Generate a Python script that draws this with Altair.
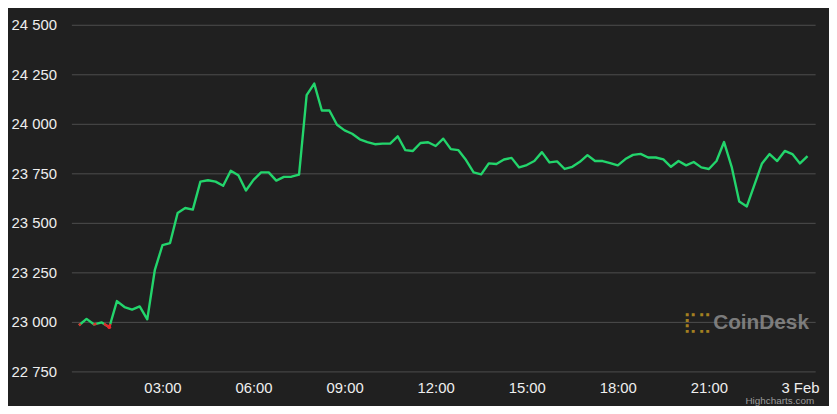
import altair as alt
import pandas as pd

# ---- data (BTC price, 15-minute steps, 2 Feb 00:15 -> 3 Feb 00:15)
start_time = "2023-02-02 00:15"
prices = [
    22983, 23015, 22987, 22997, 22973, 23105, 23075, 23062, 23078, 23013,
    23263, 23387, 23398, 23550, 23575, 23567, 23708, 23715, 23708, 23687,
    23763, 23740, 23663, 23717, 23755, 23755, 23713, 23732, 23733, 23743,
    24145, 24203, 24067, 24067, 23995, 23967, 23950, 23922, 23908, 23897,
    23900, 23900, 23937, 23867, 23863, 23903, 23907, 23888, 23925, 23872,
    23867, 23817, 23755, 23745, 23800, 23797, 23820, 23828, 23780, 23792,
    23812, 23857, 23805, 23810, 23772, 23783, 23808, 23842, 23812, 23812,
    23802, 23790, 23822, 23843, 23848, 23830, 23830, 23820, 23783, 23812,
    23790, 23807, 23780, 23772, 23812, 23908, 23783, 23608, 23583, 23692,
    23800, 23847, 23812, 23863, 23847, 23800, 23837,
]
open_price = 22990  # zone threshold: below it the line is drawn red

y_ticks = [22750, 23000, 23250, 23500, 23750, 24000, 24250, 24500]
x_tick_hours = [3, 6, 9, 12, 15, 18, 21, 24]
x_tick_labels = ["03:00", "06:00", "09:00", "12:00", "15:00", "18:00", "21:00", "3 Feb"]

times = pd.date_range(start_time, periods=len(prices), freq="15min")
df = pd.DataFrame({"time": times, "price": prices})

# red pieces of the line: parts of segments that lie below the threshold
red_rows = []
seg = 0
for i in range(len(prices) - 1):
    t0, t1 = times[i], times[i + 1]
    p0, p1 = prices[i], prices[i + 1]
    b0, b1 = p0 < open_price, p1 < open_price
    if not (b0 or b1):
        continue
    f = (open_price - p0) / (p1 - p0)
    tc = t0 + (t1 - t0) * f
    a = (t0, p0) if b0 else (tc, open_price)
    b = (t1, p1) if b1 else (tc, open_price)
    red_rows.append({"time": a[0], "price": a[1], "seg": seg})
    red_rows.append({"time": b[0], "price": b[1], "seg": seg})
    seg += 1
red_df = pd.DataFrame(red_rows)

tick_values = []
for h in x_tick_hours:
    if h < 24:
        tick_values.append(alt.DateTime(year=2023, month=2, date=2, hours=h, minutes=0))
    else:
        tick_values.append(alt.DateTime(year=2023, month=2, date=3, hours=0, minutes=0))

label_map = "{" + ",".join(
    f"'{h % 24}': '{lab}'" for h, lab in zip(x_tick_hours, x_tick_labels)
) + "}"

x_enc = alt.X(
    "time:T",
    title=None,
    scale=alt.Scale(
        domain=[
            alt.DateTime(year=2023, month=2, date=2, hours=0, minutes=0),
            alt.DateTime(year=2023, month=2, date=3, hours=0, minutes=30),
        ]
    ),
    axis=alt.Axis(
        values=tick_values,
        labelExpr=f"{label_map}[''+hours(datum.value)]",
        grid=False,
        ticks=False,
        domain=False,
        labelColor="#eeeeee",
        labelFont="Liberation Sans",
        labelFontSize=15,
        labelPadding=9,
        labelAngle=0,
    ),
)
y_enc = alt.Y(
    "price:Q",
    title=None,
    scale=alt.Scale(domain=[22750, 24500], nice=False, zero=False),
    axis=alt.Axis(
        values=y_ticks,
        labelExpr="replace(format(datum.value, ','), ',', ' ')",
        grid=True,
        gridColor="#4e4e4e",
        gridWidth=1,
        ticks=False,
        domain=False,
        labelColor="#eeeeee",
        labelFont="Liberation Sans",
        labelFontSize=15,
        labelPadding=15,
    ),
)

green = alt.Chart(df).mark_line(color="#23d56c", strokeWidth=2.4, strokeJoin="round").encode(
    x=x_enc, y=y_enc
)
red = alt.Chart(red_df).mark_line(color="#e3262b", strokeWidth=2.4).encode(
    x="time:T", y="price:Q", detail="seg:N"
)
red_dot = alt.Chart(df[df["price"] < open_price].iloc[[-1]]).mark_circle(
    color="#e3262b", size=14, opacity=1
).encode(x="time:T", y="price:Q")

wm = pd.DataFrame({"k": [0]})
coindesk = alt.Chart(wm).mark_text(
    text="CoinDesk", font="Liberation Sans", fontWeight="bold", fontSize=21,
    color="#8c8c8c", opacity=0.85, align="left", baseline="middle",
).encode(x=alt.value(648), y=alt.value(301))
icon = alt.Chart(wm).mark_text(
    text="⣏⣉", font="DejaVu Sans", fontSize=20, color="#b38b22", opacity=0.9,
    align="center", baseline="middle",
).encode(x=alt.value(632), y=alt.value(301))
credit = alt.Chart(wm).mark_text(
    text="Highcharts.com", font="Liberation Sans", fontSize=10,
    color="#9a9a9a", align="right", baseline="middle",
).encode(x=alt.value(750), y=alt.value(380))

chart = (
    alt.layer(coindesk, icon, green, red, red_dot, credit)
    .properties(
        width=751,
        height=350,
        padding={"left": 64, "top": 15, "right": 14, "bottom": 33},
        autosize=alt.AutoSizeParams(type="none"),
        background="#202020",
    )
    .configure_view(stroke=None)
)

chart.save("out.html", embed_options={"renderer": "svg", "actions": False})
